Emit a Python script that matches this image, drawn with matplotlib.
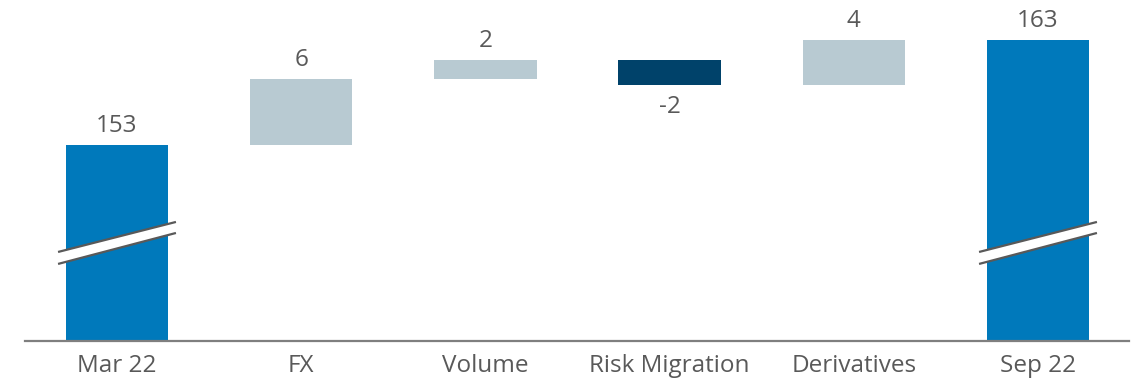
import matplotlib
matplotlib.use("Agg")
import matplotlib.pyplot as plt
import numpy as np

categories = ["Mar 22", "FX", "Volume", "Risk Migration", "Derivatives", "Sep 22"]
start_value = 153.0
changes = [6.3, 1.8, -2.4, 4.3]
end_value = 163.0
labels = ["153", "6", "2", "-2", "4", "163"]

# y-range of the broken axis (bars are cut off below this)
y_floor = 134.33
y_top = 166.81

blue = "#0079BB"
navy = "#00426A"
grey = "#B8CAD2"
txt = "#595959"

plt.rcParams['font.family'] = ['Open Sans', 'DejaVu Sans']


def main():
    fig = plt.figure(figsize=(11.39, 3.84), dpi=100)
    ax = fig.add_axes([0, 43 / 384, 1, 341 / 384])

    x = np.arange(len(categories))
    width = 0.555

    bottoms = []
    heights = []
    colors = []
    # start bar
    bottoms.append(y_floor - 5)
    heights.append(start_value - (y_floor - 5))
    colors.append(blue)
    level = start_value
    for c in changes:
        if c >= 0:
            bottoms.append(level)
            heights.append(c)
            colors.append(grey)
        else:
            bottoms.append(level + c)
            heights.append(-c)
            colors.append(navy)
        level += c
    bottoms.append(y_floor - 5)
    heights.append(end_value - (y_floor - 5))
    colors.append(blue)

    ax.bar(x, heights, bottom=bottoms, width=width, color=colors, zorder=2)

    # value labels
    level = start_value
    for i, lab in enumerate(labels):
        top = bottoms[i] + heights[i]
        if i > 0 and i < len(labels) - 1 and changes[i - 1] < 0:
            ax.annotate(lab, (x[i], bottoms[i]), xytext=(0, -7), textcoords='offset points',
                        ha='center', va='top', fontsize=17.5, color=txt)
        else:
            ax.annotate(lab, (x[i], top), xytext=(0, 5), textcoords='offset points',
                        ha='center', va='bottom', fontsize=17.5, color=txt)

    # axis break marks on first and last bar
    for i in [0, len(categories) - 1]:
        xs = [x[i] - 0.32, x[i] + 0.32]
        up = [142.81, 145.67]
        lo = [141.67, 144.62]
        ax.fill([xs[0], xs[1], xs[1], xs[0]], [lo[0], lo[1], up[1], up[0]],
                color='white', zorder=3, lw=0)
        ax.plot(xs, up, color=txt, lw=1.6, zorder=4, solid_capstyle='butt')
        ax.plot(xs, lo, color=txt, lw=1.6, zorder=4, solid_capstyle='butt')

    ax.set_xlim(-117 / 184.2, (1139 - 117) / 184.2)
    ax.set_ylim(y_floor, y_top)
    ax.set_xticks(x)
    ax.set_xticklabels(categories, fontsize=17.5, color=txt)
    ax.tick_params(axis='x', length=0, pad=9)
    ax.set_yticks([])
    for s in ['top', 'right', 'left']:
        ax.spines[s].set_visible(False)
    ax.spines['bottom'].set_color('#7F7F7F')
    ax.spines['bottom'].set_linewidth(1.6)
    ax.spines['bottom'].set_bounds(-0.5, 5.494)
    ax.spines['bottom'].set_zorder(5)

    fig.savefig("out.png", dpi=100)


if __name__ == '__main__':
    main()
